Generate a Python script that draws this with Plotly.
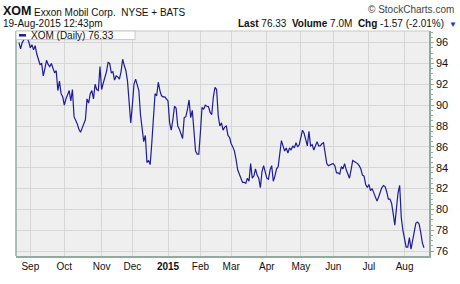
import pandas as pd
import plotly.graph_objects as go

# ---- data -------------------------------------------------------------
holidays = ["2014-09-01", "2014-11-27", "2014-12-25", "2015-01-01", "2015-01-19",
            "2015-02-16", "2015-04-03", "2015-05-25", "2015-07-03"]
start_date = "2014-08-21"
end_date = "2015-08-19"

closes = [
    96.0, 95.4, 96.0, 96.3, 96.5, 96.4, 96.1,
    95.5, 95.8, 95.3, 95.7, 94.9, 94.4, 93.9, 94.0, 92.8, 93.5,
    94.3, 93.9, 93.7, 94.0, 93.6, 93.1, 93.3, 91.4, 92.3, 91.1,
    90.8, 90.0, 90.6, 91.1, 91.4, 90.4, 91.5, 88.9, 88.6, 88.2,
    87.7, 87.4, 87.8, 88.2, 88.6, 90.6, 90.2, 91.1, 91.4, 90.6,
    92.0, 91.5, 91.4, 93.7, 91.5, 92.1, 92.7, 93.2, 94.1, 94.0,
    93.1, 93.2, 92.4, 92.8, 92.7, 92.5, 93.2, 94.4, 93.8, 93.3,
    92.3, 90.2, 88.3, 90.0, 92.0, 92.5, 91.9, 91.4, 89.1, 87.7,
    86.5, 87.1, 84.5, 84.7, 84.3, 86.4, 88.6, 91.1, 90.9, 92.2,
    91.4, 90.9, 90.8, 90.8, 90.6, 90.4, 88.3, 87.6, 88.6, 89.9,
    89.7, 88.0, 87.7, 87.3, 86.8, 88.8, 88.9, 89.6, 90.5, 88.8,
    89.5, 87.6, 85.6, 85.3, 85.3, 87.4, 89.8, 89.6, 90.0, 89.9,
    89.85, 89.3, 89.1, 90.8, 91.7, 91.5, 89.0, 88.0, 88.3, 87.6,
    87.9, 88.0, 87.1, 86.9, 86.3, 86.0, 85.6, 84.8, 83.8, 83.4,
    82.9, 82.6, 82.6, 82.5, 83.0, 82.7, 84.4, 83.0, 83.2, 83.9,
    83.3, 83.0, 82.1, 83.6, 84.2, 83.5, 83.0, 82.9, 83.8, 84.2,
    82.7, 83.2, 83.9, 84.1, 85.4, 86.6, 86.1, 85.6, 85.9, 85.4,
    85.9, 85.7, 86.1, 85.9, 86.4, 86.0, 86.2, 87.1, 87.6, 87.3,
    86.8, 86.1, 87.5, 86.1, 86.2, 85.7, 86.1, 86.5, 86.1, 86.1,
    86.3, 86.4, 85.4, 84.4, 84.2, 84.3, 84.35, 84.4, 84.2, 83.5,
    83.5, 83.4, 84.1, 83.9, 84.4, 83.8, 83.3, 83.0, 83.8, 84.7,
    84.6, 84.5, 84.4, 84.2, 83.9, 83.3, 83.2, 82.4, 82.1, 82.4,
    81.8, 82.0, 81.6, 81.2, 80.8, 81.2, 81.6, 82.1, 82.3, 82.2,
    81.7, 81.0, 81.0, 80.6, 79.6, 78.5, 80.1, 81.6, 82.3, 79.2,
    78.0, 77.3, 76.4, 76.4, 77.3, 76.2, 77.1, 77.8, 78.7, 78.8,
    78.6, 77.8, 76.8, 76.33,
]

month_labels = ["Sep", "Oct", "Nov", "Dec", "<b>2015</b>", "Feb", "Mar",
                "Apr", "May", "Jun", "Jul", "Aug"]
y_ticks = [76, 78, 80, 82, 84, 86, 88, 90, 92, 94, 96]

# ---- build ------------------------------------------------------------
dates = pd.bdate_range(start_date, end_date, freq="C", holidays=holidays)
n = min(len(dates), len(closes))
dates = dates[:n]
closes = closes[:n]
xcat = [d.strftime("%Y-%m-%d") for d in dates]

# first trading day of each month (from Sep 2014)
tickvals = []
seen = set()
for d in dates:
    key = (d.year, d.month)
    if key not in seen:
        seen.add(key)
        if not (d.year == 2014 and d.month == 8):
            tickvals.append(d.strftime("%Y-%m-%d"))
tickvals = tickvals[:len(month_labels)]

W, H = 460, 284
L, R, T, B = 16, 428.7, 30.5, 266.7

def fx(px):
    return (px - L) / (R - L)

def fy(py):
    return (B - py) / (B - T)

LINE = "#1c1c9c"
AXC = "#93aa9f"

fig = go.Figure()
fig.add_trace(go.Scatter(x=xcat, y=closes, mode="lines",
                         line=dict(color=LINE, width=1.2), showlegend=False,
                         hoverinfo="skip"))

fig.update_layout(
    width=W, height=H,
    margin=dict(l=L, r=W - R, t=T, b=H - B, pad=0),
    paper_bgcolor="white", plot_bgcolor="#efefef",
    font=dict(family="Liberation Sans, Arial, sans-serif", size=10, color="#111"),
    xaxis=dict(type="category", range=[-1.83, 253.1], tickmode="array",
               tickvals=tickvals, ticktext=month_labels, showgrid=True,
               gridcolor="#d6d6d6", gridwidth=1, showline=True, linecolor=AXC,
               linewidth=1.5, ticks="", tickfont=dict(size=10, color="#111"),
               mirror=False, zeroline=False, fixedrange=True),
    yaxis=dict(side="right", range=[75.54, 97.11], tickvals=y_ticks,
               showgrid=True, gridcolor="#d6d6d6", gridwidth=1,
               showline=True, linecolor=AXC, linewidth=1.5, ticks="outside",
               ticklen=3, tickcolor=AXC, tickfont=dict(size=11, color="#111"),
               minor=dict(dtick=0.5, ticks="outside", ticklen=2, tickcolor=AXC,
                          showgrid=False),
               zeroline=False, fixedrange=True),
)

# left axis line and top border
fig.add_shape(type="line", xref="paper", yref="paper", x0=0, x1=0, y0=0, y1=1,
              line=dict(color=AXC, width=1.5))
fig.add_shape(type="line", xref="paper", yref="paper", x0=0, x1=1, y0=1, y1=1,
              line=dict(color="#c8c8c8", width=1))

# legend box
fig.add_shape(type="rect", xref="paper", yref="paper",
              x0=fx(L), x1=fx(135), y0=fy(39.5), y1=fy(T),
              fillcolor="white", line=dict(color="#c8c8c8", width=1), layer="above")
fig.add_shape(type="line", xref="paper", yref="paper",
              x0=fx(19), x1=fx(26), y0=fy(35), y1=fy(35),
              line=dict(color=LINE, width=2.5), layer="above")
fig.add_annotation(xref="paper", yref="paper", x=fx(29), y=fy(35),
                   text="XOM (Daily) 76.33", showarrow=False, xanchor="left",
                   yanchor="middle", font=dict(size=10, color="#111"))

# header
def header(px, py, text, size=10, anchor="left", color="#111"):
    fig.add_annotation(xref="paper", yref="paper", x=fx(px), y=fy(py), text=text,
                       showarrow=False, xanchor=anchor, yanchor="middle",
                       font=dict(size=size, color=color))

header(1, 10, "<b>XOM</b>", size=12.5)
header(32, 11, "Exxon Mobil Corp.  NYSE + BATS", size=10)
header(1, 23, "19-Aug-2015 12:43pm", size=10)
header(446, 23, "<b>Last</b> 76.33  <b>Volume</b> 7.0M  <b>Chg</b> -1.57 (-2.01%)",
       size=10, anchor="right")
header(447, 23.5, "▼", size=8, anchor="left", color="#2233dd")
header(456, 8, "© StockCharts.com", size=10, anchor="right", color="#444")

fig.write_html("out.html")
